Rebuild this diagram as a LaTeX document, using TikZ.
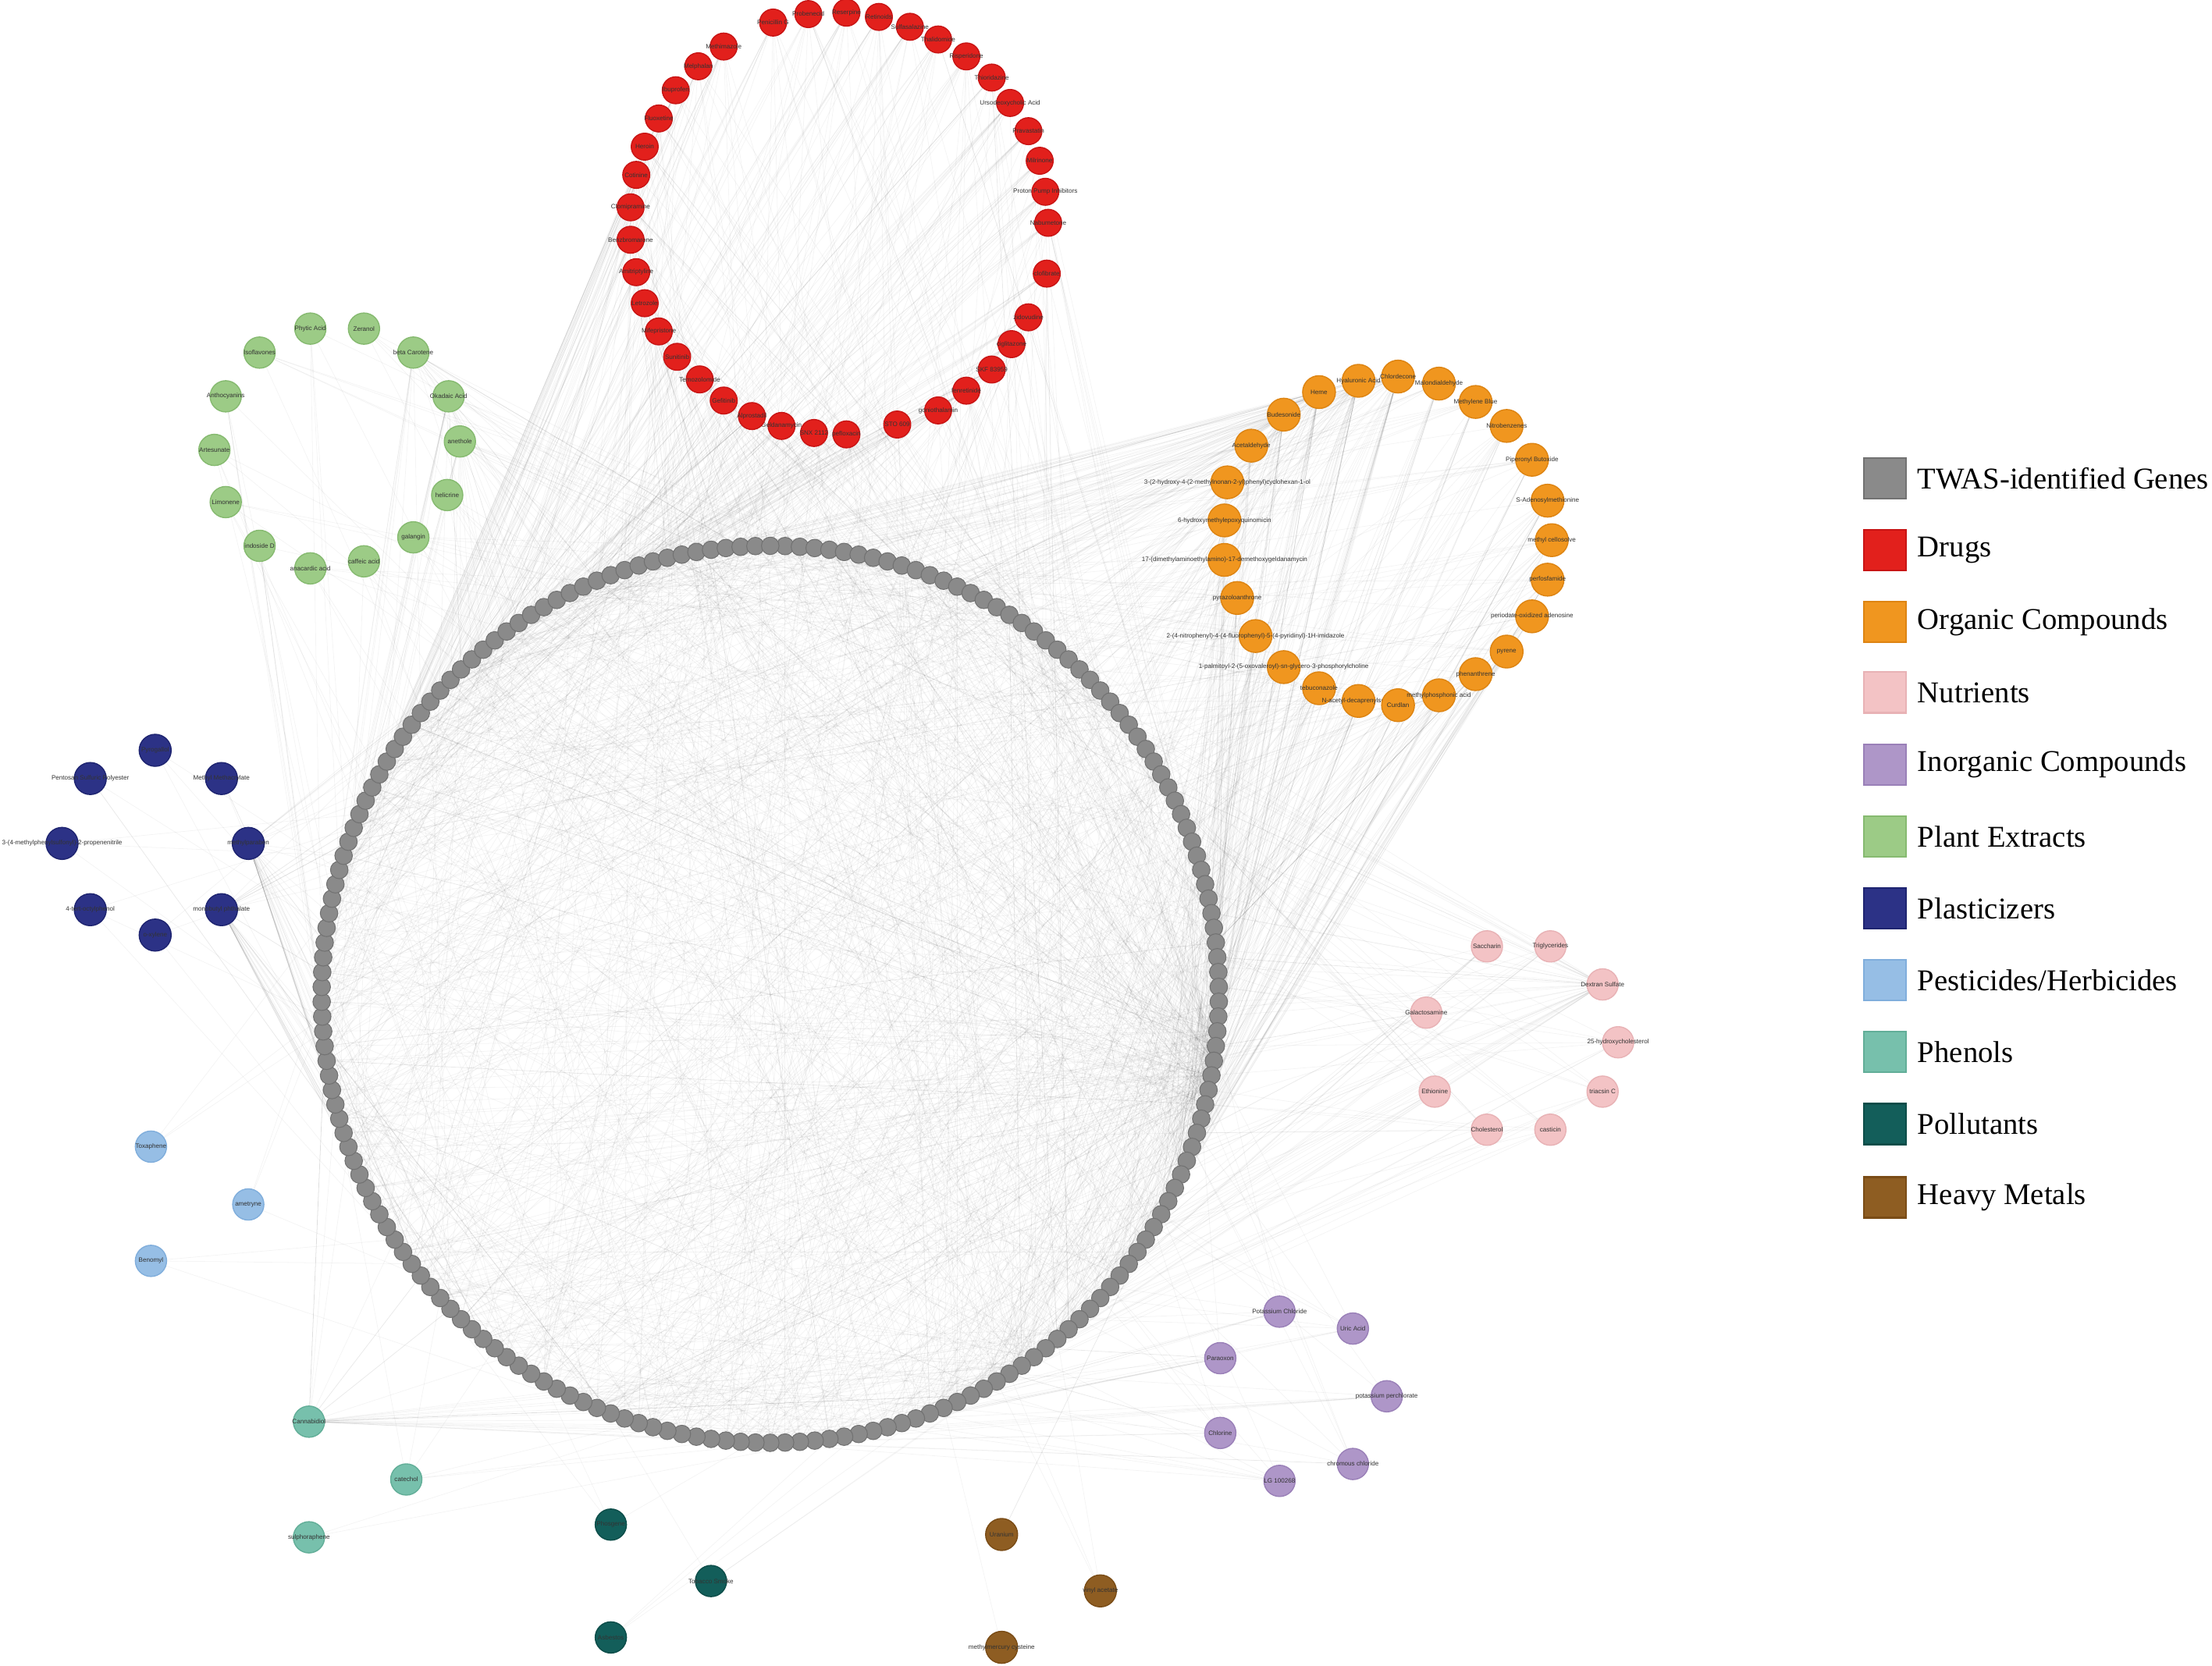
\documentclass[tikz,border=0pt]{standalone}
\usepackage{fontspec}
\setmainfont{Liberation Serif}
\newfontfamily\lblfam{Liberation Sans}
\pgfdeclarelayer{bglayer}
\pgfdeclarelayer{edges}
\pgfsetlayers{bglayer,edges,main}
\definecolor{cgene}{HTML}{8A8A8A}
\definecolor{cgened}{HTML}{727272}
\definecolor{cdrug}{HTML}{E2201C}
\definecolor{cdrugd}{HTML}{C81414}
\definecolor{corg}{HTML}{F0961F}
\definecolor{corgd}{HTML}{DD8412}
\definecolor{cnut}{HTML}{F3C3C5}
\definecolor{cnutd}{HTML}{E8B2B5}
\definecolor{cinorg}{HTML}{AE96C8}
\definecolor{cinorgd}{HTML}{9A80B8}
\definecolor{cplant}{HTML}{9CCB86}
\definecolor{cplantd}{HTML}{86BA70}
\definecolor{cplast}{HTML}{2C3286}
\definecolor{cplastd}{HTML}{1E2470}
\definecolor{cpest}{HTML}{96BEE5}
\definecolor{cpestd}{HTML}{80AEDC}
\definecolor{cphen}{HTML}{77C0AC}
\definecolor{cphend}{HTML}{62AE98}
\definecolor{cpoll}{HTML}{135E5A}
\definecolor{cpolld}{HTML}{0C4D49}
\definecolor{cmetal}{HTML}{8E5D22}
\definecolor{cmetald}{HTML}{7A4C16}
\newcommand{\lblfont}{\lblfam\fontsize{2.3}{2.6}\selectfont}
\newcommand{\edgesfrom}[2]{\foreach \k in {1,...,#2}{\pgfmathrandominteger{\gi}{1}{190}\draw[edge] (#1) -- (g\gi);}}
\newcommand{\edgesfromr}[4]{\foreach \k in {1,...,#2}{\pgfmathrandominteger{\gi}{#3}{#4}\draw[edge] (#1) -- (g\gi);}}
\begin{document}
\begin{tikzpicture}[x=0.018074cm, y=-0.018074cm,
  gene/.style={circle, fill=cgene, draw=cgened, line width=0.3pt, minimum size=0.225cm, inner sep=0pt},
  cnode/.style={circle, inner sep=0pt, minimum size=0.40cm, line width=0.4pt},
  drug/.style={cnode, fill=cdrug, draw=cdrugd, minimum size=0.345cm},
  org/.style={cnode, fill=corg, draw=corgd, minimum size=0.42cm},
  nut/.style={cnode, fill=cnut, draw=cnutd},
  inorg/.style={cnode, fill=cinorg, draw=cinorgd},
  plant/.style={cnode, fill=cplant, draw=cplantd},
  plast/.style={cnode, fill=cplast, draw=cplastd, minimum size=0.41cm},
  pest/.style={cnode, fill=cpest, draw=cpestd},
  phen/.style={cnode, fill=cphen, draw=cphend},
  poll/.style={cnode, fill=cpoll, draw=cpolld},
  metal/.style={cnode, fill=cmetal, draw=cmetald, minimum size=0.41cm},
  lbl/.style={font=\lblfont, text=black!80, inner sep=0pt},
  edge/.style={draw=black, draw opacity=0.045, line width=0.22pt},
  legbox/.style={rectangle, minimum width=0.542cm, minimum height=0.52cm, inner sep=0pt, line width=0.6pt},
  legtxt/.style={anchor=west, font=\fontsize{11}{13}\selectfont, inner sep=0pt}]

\useasboundingbox (0,0) rectangle (1568,1181);
\begin{pgfonlayer}{bglayer}
\fill[white] (0,0) rectangle (1568,1181);
\end{pgfonlayer}

% TWAS-identified genes (ring)
\foreach \i in {1,...,190} {
  \node[gene] (g\i) at ({546+318*cos(-90+\i*1.894737)}, {705+318*sin(-90+\i*1.894737)}) {};
}

% Drugs
\foreach \x/\y/\t [count=\c] in {
 548/16/Penicillin G, 573/10/Probenecid, 600/9/Reserpine, 623/12/Retinoids,
 645/19/Sulfasalazine, 665/28/Thalidomide, 685/40/Risperidone, 703/55/Thioridazine,
 716/73/Ursodeoxycholic Acid, 729/93/Pravastatin, 737/114/Milrinone,
 741/136/Proton Pump Inhibitors, 743/158/Nabumetone, 742/194/clofibrate,
 729/225/zidovudine, 717/244/ciglitazone, 703/262/SKF 83959, 685/277/fenretinide,
 665/291/goniothalamin, 636/301/STO 609, 600/308/pefloxacin, 577/307/SNX 2112,
 554/302/Geldanamycin, 533/295/Alprostadil, 513/284/Gefitinib, 496/269/Temozolomide,
 480/253/Sunitinib, 467/235/Mifepristone, 457/215/Letrozole, 451/193/Amitriptyline,
 447/170/Benzbromarone, 447/147/Clomipramine, 451/124/Cotinine, 457/104/Heroin,
 467/84/Fluoxetine, 479/64/Ibuprofen, 495/47/Melphalan, 513/33/Methimazole} {
  \node[drug, label={[lbl]center:\t}] (d\c) at (\x,\y) {};
}

% Organic compounds
\foreach \x/\y/\t [count=\c] in {
 991/267/Chlordecone, 963/270/Hyaluronic Acid, 935/278/Heme, 910/294/Budesonide,
 887/316/Acetaldehyde, 870/342/3-(2-hydroxy-4-(2-methylnonan-2-yl)phenyl)cyclohexan-1-ol,
 868/369/6-hydroxymethylepoxyquinomicin,
 868/397/17-(dimethylaminoethylamino)-17-demethoxygeldanamycin,
 877/424/pyrazoloanthrone,
 890/451/2-(4-nitrophenyl)-4-(4-fluorophenyl)-5-(4-pyridinyl)-1H-imidazole,
 910/473/1-palmitoyl-2-(5-oxovaleroyl)-sn-glycero-3-phosphorylcholine,
 935/488/tebuconazole, 963/497/N-acetyl-decaprenylserine, 991/500/Curdlan,
 1020/493/methylphosphonic acid, 1046/478/phenanthrene, 1068/462/pyrene,
 1086/437/periodate-oxidized adenosine, 1097/411/perfosfamide, 1100/383/methyl cellosolve,
 1097/355/S-Adenosylmethionine, 1086/326/Piperonyl Butoxide, 1068/302/Nitrobenzenes,
 1046/285/Methylene Blue, 1020/272/Malondialdehyde} {
  \node[org, label={[lbl]center:\t}] (o\c) at (\x,\y) {};
}

% Plant extracts
\foreach \x/\y/\t [count=\c] in {
 220/233/Phytic Acid, 258/233/Zeranol, 293/250/beta Carotene, 318/281/Okadaic Acid,
 326/313/anethole, 317/351/helicrine, 293/381/galangin, 258/398/caffeic acid,
 220/403/anacardic acid, 184/387/indoside D, 160/356/Limonene, 152/319/Artesunate,
 160/281/Anthocyanins, 184/250/Isoflavones} {
  \node[plant, label={[lbl]center:\t}] (p\c) at (\x,\y) {};
}

% Plasticizers
\foreach \x/\y/\t [count=\c] in {
 110/532/Pyrogallol, 157/552/Methyl Methacrylate, 176/598/methylparaben,
 157/645/monobutyl phthalate, 110/663/o-xylene, 64/645/4-tert-octylphenol,
 44/598/3-(4-methylphenylsulfonyl)-2-propenenitrile, 64/552/Pentosan Sulfuric Polyester} {
  \node[plast, label={[lbl]center:\t}] (z\c) at (\x,\y) {};
}

% Pesticides/Herbicides
\foreach \x/\y/\t [count=\c] in {107/813/Toxaphene, 176/854/ametryne, 107/894/Benomyl} {
  \node[pest, label={[lbl]center:\t}] (h\c) at (\x,\y) {};
}

% Phenols
\foreach \x/\y/\t [count=\c] in {219/1008/Cannabidiol, 288/1049/catechol, 219/1090/sulphoraphene} {
  \node[phen, label={[lbl]center:\t}] (f\c) at (\x,\y) {};
}

% Pollutants
\foreach \x/\y/\t [count=\c] in {433/1081/Phosgene, 504/1121/Tobacco Smoke, 433/1161/Asbestos} {
  \node[poll, label={[lbl]center:\t}] (u\c) at (\x,\y) {};
}

% Heavy metals
\foreach \x/\y/\t [count=\c] in {710/1088/Uranium, 780/1128/vinyl acetate, 710/1168/methylmercury cysteine} {
  \node[metal, label={[lbl]center:\t}] (m\c) at (\x,\y) {};
}

% Nutrients
\foreach \x/\y/\t [count=\c] in {
 1054/671/Saccharin, 1099/671/Triglycerides, 1136/698/Dextran Sulfate,
 1147/739/25-hydroxycholesterol, 1136/774/triacsin C, 1099/801/casticin,
 1054/801/Cholesterol, 1017/774/Ethionine, 1011/718/Galactosamine} {
  \node[nut, label={[lbl]center:\t}] (n\c) at (\x,\y) {};
}

% Inorganic compounds
\foreach \x/\y/\t [count=\c] in {
 907/930/Potassium Chloride, 959/942/Uric Acid, 983/990/potassium perchlorate,
 959/1038/chromous chloride, 907/1050/LG 100268, 865/1016/Chlorine, 865/963/Paraoxon} {
  \node[inorg, label={[lbl]center:\t}] (i\c) at (\x,\y) {};
}

% Legend
\node[legbox, fill=cgene, draw=cgened] (lb1) at (1336,339) {};
\node[legtxt] (lt1) at (1359,339) {TWAS-identified Genes};
\node[legbox, fill=cdrug, draw=cdrugd] (lb2) at (1336,390) {};
\node[legtxt] (lt2) at (1359,390) {Drugs};
\node[legbox, fill=corg, draw=corgd] (lb3) at (1336,441) {};
\node[legtxt] (lt3) at (1359,441) {Organic Compounds};
\node[legbox, fill=cnut, draw=cnutd] (lb4) at (1336,491) {};
\node[legtxt] (lt4) at (1359,491) {Nutrients};
\node[legbox, fill=cinorg, draw=cinorgd] (lb5) at (1336,542) {};
\node[legtxt] (lt5) at (1359,542) {Inorganic Compounds};
\node[legbox, fill=cplant, draw=cplantd] (lb6) at (1336,593) {};
\node[legtxt] (lt6) at (1359,593) {Plant Extracts};
\node[legbox, fill=cplast, draw=cplastd] (lb7) at (1336,644) {};
\node[legtxt] (lt7) at (1359,644) {Plasticizers};
\node[legbox, fill=cpest, draw=cpestd] (lb8) at (1336,695) {};
\node[legtxt] (lt8) at (1359,695) {Pesticides/Herbicides};
\node[legbox, fill=cphen, draw=cphend] (lb9) at (1336,746) {};
\node[legtxt] (lt9) at (1359,746) {Phenols};
\node[legbox, fill=cpoll, draw=cpolld] (lb10) at (1336,797) {};
\node[legtxt] (lt10) at (1359,797) {Pollutants};
\node[legbox, fill=cmetal, draw=cmetald] (lb11) at (1336,849) {};
\node[legtxt] (lt11) at (1359,849) {Heavy Metals};

% Edges
\begin{pgfonlayer}{edges}
\pgfmathsetseed{2718}
\foreach \c in {1,...,38} {\edgesfrom{d\c}{8}\edgesfromr{d\c}{5}{151}{190}}
\foreach \c in {1,...,25} {\edgesfrom{o\c}{9}\edgesfromr{o\c}{5}{42}{65}}
\foreach \c in {1,2,3,4} {\edgesfrom{o\c}{30}}
\foreach \c in {1,...,14} {\edgesfrom{p\c}{5}}
\foreach \c in {3,4,5} {\edgesfromr{p\c}{15}{140}{190}}
\foreach \c in {1,...,8} {\edgesfromr{z\c}{3}{112}{168}}
\edgesfromr{z3}{30}{112}{168}
\edgesfromr{z4}{30}{106}{156}
\foreach \c in {1,2,3} {\edgesfromr{h\c}{3}{89}{156}}
\edgesfromr{f1}{30}{67}{140}
\edgesfromr{f2}{6}{67}{140}
\edgesfromr{f3}{2}{67}{140}
\foreach \c in {1,2,3} {\edgesfromr{u\c}{3}{61}{123}}
\edgesfromr{m1}{2}{61}{84}
\edgesfromr{m2}{3}{61}{84}
\edgesfromr{m3}{1}{61}{84}
\foreach \c in {1,...,9} {\edgesfromr{n\c}{8}{28}{84}}
\edgesfrom{n3}{30}
\foreach \c in {1,...,7} {\edgesfromr{i\c}{8}{50}{101}}
\foreach \k in {1,...,450} {\pgfmathrandominteger{\ga}{1}{190}\pgfmathrandominteger{\gb}{1}{190}\draw[edge] (g\ga) -- (g\gb);}
\foreach \h in {50,51,52,53,54,55} {\edgesfrom{g\h}{35}}
\foreach \h in {76,77,78} {\edgesfrom{g\h}{20}}
\end{pgfonlayer}
\end{tikzpicture}
\end{document}
